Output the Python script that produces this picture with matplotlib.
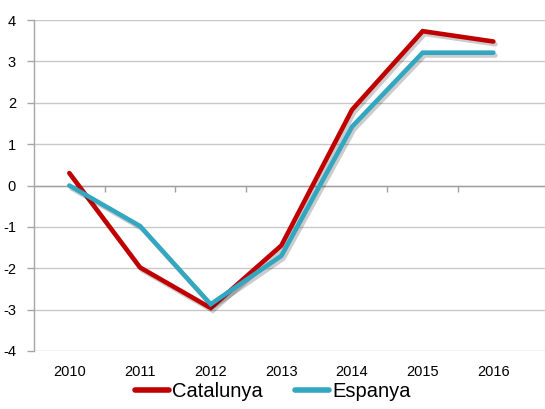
import matplotlib
matplotlib.use("Agg")
import matplotlib.pyplot as plt
import matplotlib.patheffects as pe

years = ["2010", "2011", "2012", "2013", "2014", "2015", "2016"]
catalunya = [0.3, -1.98, -2.96, -1.45, 1.83, 3.73, 3.48]
espanya = [0.0, -0.98, -2.87, -1.7, 1.42, 3.21, 3.21]
yticks = [-4, -3, -2, -1, 0, 1, 2, 3, 4]

plt.rcParams['font.family'] = ['Liberation Sans', 'DejaVu Sans']

fig = plt.figure(figsize=(5.45, 4.09), dpi=100)
ax = fig.add_axes([34/545, 1 - 351/409, 1 - 34/545, (351 - 20)/409])

x = list(range(len(years)))
shadow = [pe.SimpleLineShadow(offset=(1.5, -2), shadow_color='#000000', alpha=0.2), pe.Normal()]
ax.plot(x, catalunya, color='#c00000', lw=3.3, label='Catalunya',
        solid_capstyle='round', solid_joinstyle='miter', path_effects=shadow, zorder=3)
ax.plot(x, espanya, color='#33a6c0', lw=3.3, label='Espanya',
        solid_capstyle='round', solid_joinstyle='miter', path_effects=shadow, zorder=3)

ax.set_ylim(-4, 4)
ax.set_xlim(-0.5, (545 - 34) / 70.67 - 0.5)
ax.set_yticks(yticks)
ax.set_yticklabels([str(v) for v in yticks])
ax.set_xticks(x)
ax.set_xticklabels(years)

for s in ['top', 'right', 'bottom']:
    ax.spines[s].set_visible(False)
ax.spines['left'].set_color('#a6a6a6')
ax.spines['left'].set_linewidth(1)

ax.grid(axis='y', color='#c8c8c8', lw=1)
ax.set_axisbelow(True)
ax.axhline(0, color='#a0a0a0', lw=1, zorder=2)

ax.tick_params(axis='y', length=5, width=1, color='#a6a6a6', pad=8, labelsize=10.5, labelcolor='#000000')
ax.tick_params(axis='x', length=0, pad=10, labelsize=10.5, labelcolor='#000000')

sec = ax.secondary_xaxis(0.5)
sec.set_xticks([i + 0.5 for i in x[:-1]])
sec.set_xticklabels([])
sec.xaxis.set_ticks_position('bottom')
sec.tick_params(axis='x', which='both', direction='out', length=4, width=1, color='#a0a0a0',
                bottom=True, top=False, labelbottom=False, labeltop=False)
for s in sec.spines.values():
    s.set_visible(False)

leg = fig.legend(loc='lower center', bbox_to_anchor=(0.5, -0.025), ncol=2, frameon=False,
                 fontsize=14.5, handlelength=1.7, handletextpad=0.15, columnspacing=1.6)
for h in leg.get_lines():
    h.set_linewidth(4)
    h.set_path_effects([])

fig.savefig('out.png', dpi=100)
